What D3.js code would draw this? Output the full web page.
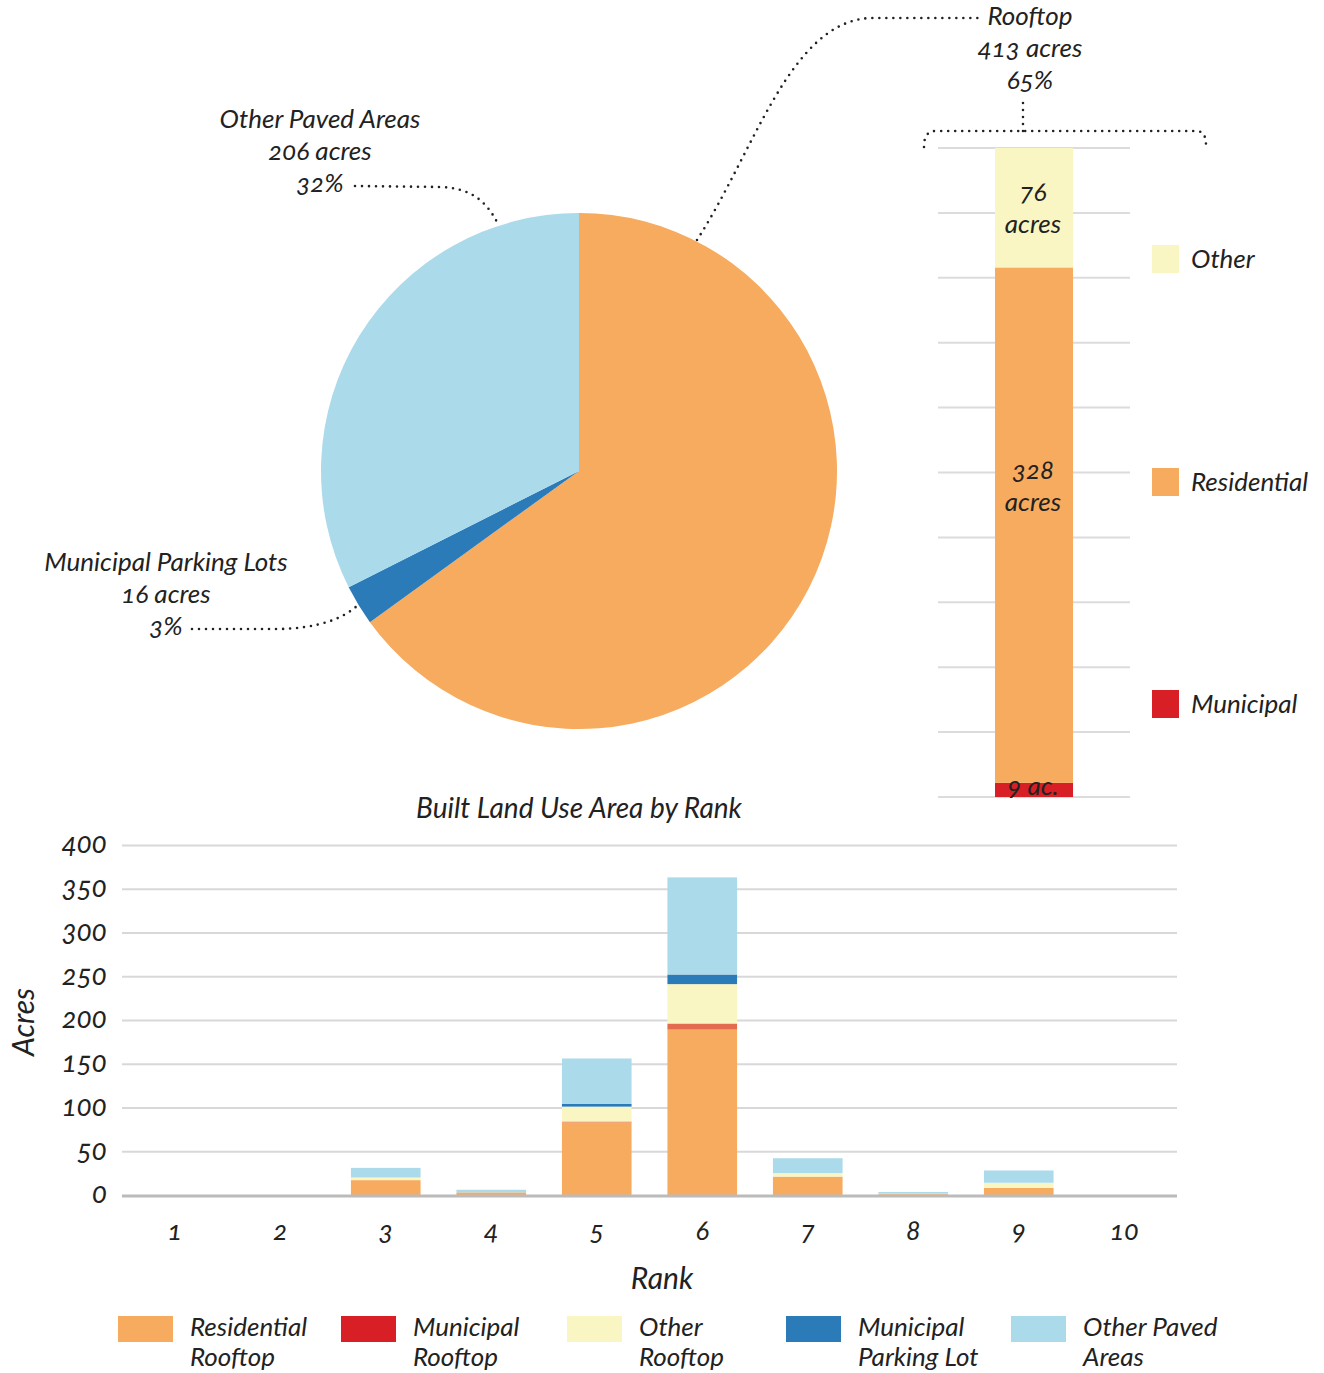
<!DOCTYPE html>
<html><head><meta charset="utf-8">
<script src="https://cdn.jsdelivr.net/npm/d3@7"></script>
<style>
body{margin:0;background:#fff;}
svg text{font-family:Lato,"Open Sans",sans-serif;font-style:italic;fill:#222;font-variant-numeric:oldstyle-nums;font-feature-settings:"onum" 1;}
</style></head>
<body><svg id="c" width="1324" height="1373"></svg>
<script>
// ---- Pie data ----
const pieCategories = ["Rooftop", "Municipal Parking Lots", "Other Paved Areas"];
const pieValues = [413, 16, 206];
const piePercents = ["65%", "3%", "32%"];
const pieColors = ["#F7AB5E", "#2B7BB9", "#ABDAEA"];

// ---- Rooftop breakdown ----
const roofCategories = ["Municipal", "Residential", "Other"];
const roofValues = [9, 328, 76];
const roofLabels = [["9 ac."], ["328", "acres"], ["76", "acres"]];
const roofColors = ["#D81F26", "#F7AB5E", "#FAF6C3"];

// ---- Bar chart by rank ----
const ranks = ["1","2","3","4","5","6","7","8","9","10"];
const seriesNames = ["Residential Rooftop","Municipal Rooftop","Other Rooftop","Municipal Parking Lot","Other Paved Areas"];
const residentialRooftop = [0,0,17,3,83,189,21,1,8,0];
const municipalRooftop   = [0,0,0,0,1,7,0,0,0,0];
const otherRooftop       = [0,0,3,0,17,45,4,0.5,6,0];
const municipalParking   = [0,0,0,0,3,11,0,0,0,0];
const otherPaved         = [0,0,11,3,52,111,17,2,14,0];
const yTicks = [0,50,100,150,200,250,300,350,400];
const legendLines = [["Residential","Rooftop"],["Municipal","Rooftop"],["Other","Rooftop"],["Municipal","Parking Lot"],["Other Paved","Areas"]];
const barColors = ["#F7AB5E","#E26B50","#FAF6C3","#2B7BB9","#ABDAEA"];
const legendColors = ["#F7AB5E","#D81F26","#FAF6C3","#2B7BB9","#ABDAEA"];

const svg = d3.select("#c");
const FS = 26;

// ===== PIE =====
const cx = 579, cy = 471, R = 258;
const pie = d3.pie().sort(null).value(d => d)(pieValues);
const arc = d3.arc().innerRadius(0).outerRadius(R);
svg.append("g").attr("transform", `translate(${cx},${cy})`)
  .selectAll("path").data(pie).join("path")
  .attr("d", arc).attr("fill", (d,i) => pieColors[i]);

function label(lines, x, y0, lh, anchor) {
  const t = svg.append("text").attr("text-anchor", anchor || "middle").attr("font-size", FS);
  lines.forEach((l, i) => t.append("tspan").attr("x", x).attr("y", y0 + i*lh).text(l));
}
label([pieCategories[0], pieValues[0] + " acres", piePercents[0]], 1030, 25, 32);
label([pieCategories[2], pieValues[2] + " acres", piePercents[2]], 320, 128, 32);
label([pieCategories[1], pieValues[1] + " acres", piePercents[1]], 166, 571, 32);

const dotted = p => svg.append("path").attr("d", p).attr("fill", "none")
  .attr("stroke", "#222").attr("stroke-width", 2.6).attr("stroke-dasharray", "0 7")
  .attr("stroke-linecap", "round");
dotted("M697,240 C755,150 790,22 870,18 L980,18");
dotted("M355,186 L440,187 C470,188 486,200 498,224");
dotted("M192,629 L280,629 C318,628 343,619 358,605");
dotted("M924,147 C924,137 927,131 936,131 L1196,131 C1204,131 1206,137 1206,146");
dotted("M1023,131 L1023,98");

// ===== ROOFTOP STACK =====
const ry = d3.scaleLinear().domain([0, d3.sum(roofValues)]).range([797, 148]);
const rTicks = d3.range(11).map(i => i * d3.sum(roofValues) / 10);
svg.append("g").selectAll("line").data(rTicks).join("line")
  .attr("x1", 938).attr("x2", 1130).attr("y1", d => ry(d)).attr("y2", d => ry(d))
  .attr("stroke", "#dcdcdc").attr("stroke-width", 2);
let acc = 0;
const rStack = roofValues.map(v => { const s = {y0: acc, y1: acc + v}; acc += v; return s; });
svg.append("g").selectAll("rect").data(rStack).join("rect")
  .attr("x", 995).attr("width", 78)
  .attr("y", d => ry(d.y1)).attr("height", d => ry(d.y0) - ry(d.y1))
  .attr("fill", (d,i) => roofColors[i]);
// labels
label(roofLabels[0], 1033, 795, 32);
label(roofLabels[1], 1033, 479, 32);
label(roofLabels[2], 1033, 201, 32);
// right legend
const rlY = [704, 482, 259];
roofCategories.forEach((c, i) => {
  svg.append("rect").attr("x", 1152).attr("y", rlY[i] - 14).attr("width", 27).attr("height", 28).attr("fill", roofColors[i]);
  svg.append("text").attr("x", 1191).attr("y", rlY[i] + 9).attr("font-size", FS).text(c);
});

// ===== BAR CHART =====
const x0 = 122, x1 = 1177;
const x = d3.scaleBand().domain(ranks).range([x0, x1]).paddingInner(0.34).paddingOuter(0.17);
const y = d3.scaleLinear().domain([0, 400]).range([1195, 845]);

const yAxis = d3.axisLeft(y).tickValues(yTicks).tickSize(-(x1 - x0)).tickPadding(15);
const ga = svg.append("g").attr("transform", `translate(${x0},0)`).call(yAxis);
ga.select(".domain").remove();
ga.selectAll(".tick line").attr("stroke", d => d === 0 ? "#bbb" : "#d8d8d8").attr("stroke-width", d => d === 0 ? 0 : 2);
ga.selectAll(".tick text").attr("font-size", 28).attr("font-family", null).attr("fill", "#222").attr("x", -15).attr("dy", "0.28em");

const table = ranks.map((r, i) => ({rank: r,
  "Residential Rooftop": residentialRooftop[i], "Municipal Rooftop": municipalRooftop[i],
  "Other Rooftop": otherRooftop[i], "Municipal Parking Lot": municipalParking[i],
  "Other Paved Areas": otherPaved[i]}));
const stack = d3.stack().keys(seriesNames)(table);
svg.append("g").selectAll("g").data(stack).join("g")
  .attr("fill", (d,i) => barColors[i])
  .selectAll("rect").data(d => d).join("rect")
  .attr("x", d => x(d.data.rank)).attr("width", x.bandwidth())
  .attr("y", d => y(d[1])).attr("height", d => y(d[0]) - y(d[1]));

// baseline
svg.append("line").attr("x1", x0).attr("x2", x1).attr("y1", y(0) + 1).attr("y2", y(0) + 1)
  .attr("stroke", "#bbb").attr("stroke-width", 3);

const xAxis = d3.axisBottom(x).tickSize(0).tickPadding(26);
const gx = svg.append("g").attr("transform", `translate(0,${y(0)})`).call(xAxis);
gx.select(".domain").remove();
gx.selectAll(".tick text").attr("font-size", 27).attr("font-family", null).attr("fill", "#222");

svg.append("text").attr("x", 579).attr("y", 818).attr("text-anchor", "middle").attr("font-size", 28).text("Built Land Use Area by Rank");
svg.append("text").attr("x", 662).attr("y", 1289).attr("text-anchor", "middle").attr("font-size", 30).text("Rank");
svg.append("text").attr("transform", "translate(34,1022) rotate(-90)").attr("text-anchor", "middle").attr("font-size", 30).text("Acres");

// bottom legend
const lgX = [118, 341, 567, 786, 1011];
seriesNames.forEach((s, i) => {
  svg.append("rect").attr("x", lgX[i]).attr("y", 1316).attr("width", 55).attr("height", 26).attr("fill", legendColors[i]);
  const t = svg.append("text").attr("font-size", FS);
  legendLines[i].forEach((l, j) => t.append("tspan").attr("x", lgX[i] + 72).attr("y", 1336 + j*30).text(l));
});
</script></body></html>
